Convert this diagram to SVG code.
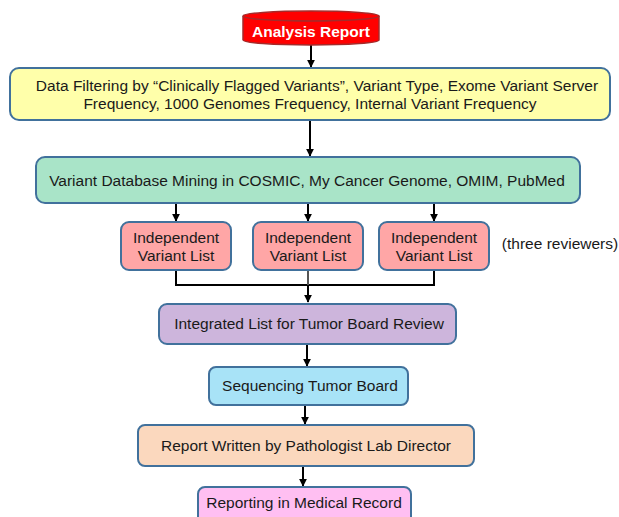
<svg xmlns="http://www.w3.org/2000/svg" width="619" height="517" viewBox="0 0 619 517">
<defs>
<style>
.box{stroke:#41719C;stroke-width:2}
.t{font-family:"Liberation Sans",Arial,sans-serif;font-size:15.5px;fill:#1a1a1a;text-anchor:middle}
.c{stroke:#000;stroke-width:2;fill:none}
</style>
<marker id="ah" viewBox="0 0 10 10" refX="9" refY="5" markerWidth="4" markerHeight="4" orient="auto">
<path d="M0,0 L10,5 L0,10 z" fill="#000"/>
</marker>
</defs>
<rect width="619" height="517" fill="#fff"/>
<g id="connectors">
<line class="c" x1="311" y1="45" x2="311" y2="67" marker-end="url(#ah)"/>
<line class="c" x1="310" y1="120" x2="310" y2="156" marker-end="url(#ah)"/>
<line class="c" x1="176" y1="203" x2="176" y2="221" marker-end="url(#ah)"/>
<line class="c" x1="308" y1="203" x2="308" y2="221" marker-end="url(#ah)"/>
<line class="c" x1="434" y1="203" x2="434" y2="221" marker-end="url(#ah)"/>
<polyline class="c" points="176,270 176,285 434,285 434,270"/>
<line class="c" x1="308" y1="270" x2="308" y2="285" style="stroke:#555"/>
<line class="c" x1="308" y1="285" x2="308" y2="302" marker-end="url(#ah)"/>
<line class="c" x1="307" y1="344" x2="307" y2="366" marker-end="url(#ah)"/>
<line class="c" x1="305" y1="405" x2="305" y2="424" marker-end="url(#ah)"/>
<line class="c" x1="303" y1="466" x2="303" y2="486" marker-end="url(#ah)"/>
</g>
<g id="analysis-report">
<path d="M243,16 L243,40 A68,5 0 0 0 379,40 L379,16" fill="#FF0000" stroke="#A52A2A" stroke-width="1.5"/>
<ellipse cx="311" cy="16" rx="68" ry="5" fill="#FF0000" stroke="#A52A2A" stroke-width="1.5"/>
<text x="311" y="37" class="t" style="fill:#fff;font-weight:bold">Analysis Report</text>
</g>
<g id="data-filtering">
<rect class="box" x="10" y="68" width="600" height="52" rx="9" fill="#FFFFAA"/>
<text class="t" x="317" y="91">Data Filtering by “Clinically Flagged Variants”, Variant Type, Exome Variant Server</text>
<text class="t" x="310" y="109">Frequency, 1000 Genomes Frequency, Internal Variant Frequency</text>
</g>
<g id="db-mining">
<rect class="box" x="36" y="157" width="544" height="46" rx="9" fill="#A9E4C8"/>
<text class="t" x="307" y="186">Variant Database Mining in COSMIC, My Cancer Genome, OMIM, PubMed</text>
</g>
<g id="list1">
<rect class="box" x="121" y="222" width="110" height="48" rx="8" fill="#FFA6A6"/>
<text class="t" x="176" y="243">Independent</text>
<text class="t" x="176" y="261">Variant List</text>
</g>
<g id="list2">
<rect class="box" x="253" y="222" width="110" height="48" rx="8" fill="#FFA6A6"/>
<text class="t" x="308" y="243">Independent</text>
<text class="t" x="308" y="261">Variant List</text>
</g>
<g id="list3">
<rect class="box" x="379" y="222" width="110" height="48" rx="8" fill="#FFA6A6"/>
<text class="t" x="434" y="243">Independent</text>
<text class="t" x="434" y="261">Variant List</text>
</g>
<g id="reviewers-note">
<text class="t" x="560" y="249">(three reviewers)</text>
</g>
<g id="integrated-list">
<rect class="box" x="159" y="304" width="297" height="40" rx="8" fill="#CDB5DC"/>
<text class="t" x="309" y="329">Integrated List for Tumor Board Review</text>
</g>
<g id="tumor-board">
<rect class="box" x="209" y="367" width="199" height="38" rx="7" fill="#A8E3F7"/>
<text class="t" x="310" y="391">Sequencing Tumor Board</text>
</g>
<g id="report-written">
<rect class="box" x="138" y="425" width="336" height="41" rx="7" fill="#FBD8BE"/>
<text class="t" x="306" y="451">Report Written by Pathologist Lab Director</text>
</g>
<g id="medical-record">
<rect class="box" x="198" y="487" width="213" height="40" rx="7" fill="#FFBFF2"/>
<text class="t" x="304" y="508">Reporting in Medical Record</text>
</g>
</svg>
